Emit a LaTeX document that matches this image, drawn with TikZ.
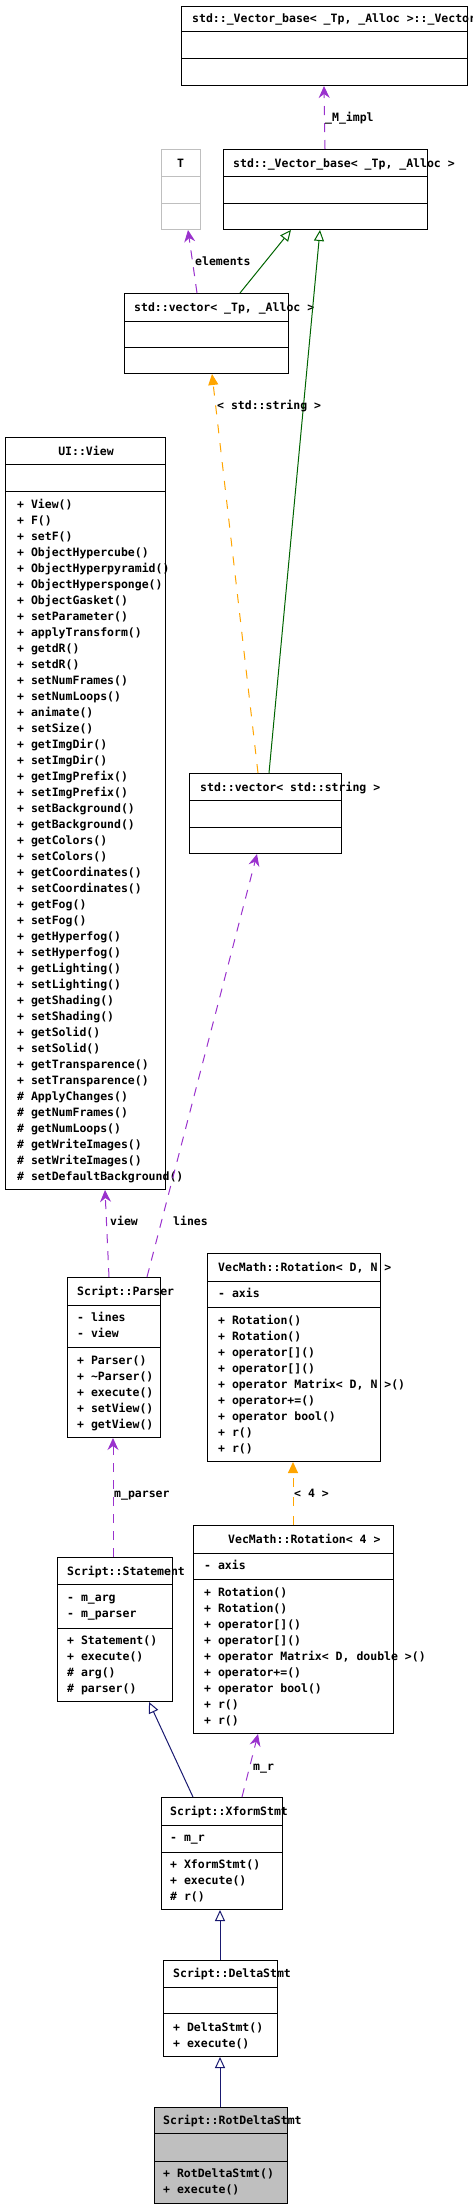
\documentclass[tikz,border=0pt]{standalone}
\usepackage{fontspec}
\setmonofont{DejaVu Sans Mono}
\usetikzlibrary{arrows.meta}
\definecolor{usecol}{HTML}{9A32CD}
\definecolor{tplcol}{HTML}{FFA500}
\definecolor{pubcol}{HTML}{006400}
\definecolor{inhcol}{HTML}{191970}
\definecolor{ghost}{HTML}{BFBFBF}
\begin{document}
\begin{tikzpicture}[x=1pt, y=-1pt,
  box/.style={draw, line width=1pt, fill=white, anchor=north west, inner sep=0},
  sep/.style={line width=1pt},
  txt/.style={font=\ttfamily\bfseries\fontsize{11.5}{14}\selectfont, inner sep=0, anchor=base west},
  useline/.style={usecol, line width=1pt, dash pattern=on 9pt off 8pt, -{Stealth[length=12pt,width=11pt,inset=4pt]}},
  tplline/.style={tplcol, line width=1pt, dash pattern=on 9pt off 10pt, -{Triangle[length=11pt,width=10pt]}},
  publine/.style={pubcol, line width=1pt, -{Triangle[open,length=11pt,width=10pt]}},
  inhline/.style={inhcol, line width=1pt, -{Triangle[open,length=11pt,width=10pt]}}]
\useasboundingbox (0,0) rectangle (472,2208);
\clip (0,0) rectangle (472,2208);
% class boxes
\node[box, minimum width=286, minimum height=79] (impl) at (181,6) {};
\node[box, draw=ghost, minimum width=39, minimum height=80] (tparam) at (161,149) {};
\node[box, minimum width=204, minimum height=80] (vbase) at (223,149) {};
\node[box, minimum width=164, minimum height=80] (vtmpl) at (124,293) {};
\node[box, minimum width=160, minimum height=752] (uiview) at (5,437) {};
\node[box, minimum width=152, minimum height=80] (vstring) at (189,773) {};
\node[box, minimum width=93, minimum height=160] (parser) at (67,1277) {};
\node[box, minimum width=173, minimum height=208] (rotdn) at (207,1253) {};
\node[box, minimum width=200, minimum height=208] (rotfour) at (193,1525) {};
\node[box, minimum width=115, minimum height=144] (stmt) at (57,1557) {};
\node[box, minimum width=121, minimum height=112] (xform) at (161,1797) {};
\node[box, minimum width=114, minimum height=96] (delta) at (163,1960) {};
\node[box, fill=ghost, minimum width=133, minimum height=96] (rotdelta) at (154,2107) {};
% compartments
\foreach \n/\s in {impl/32, impl/59, vbase/176, vbase/203, vtmpl/321, vtmpl/347,
  uiview/464, uiview/491, vstring/800, vstring/827, parser/1305, parser/1347,
  rotdn/1281, rotdn/1307, rotfour/1553, rotfour/1579, stmt/1584, stmt/1628,
  xform/1825, xform/1852, delta/1987, delta/2013, rotdelta/2133, rotdelta/2161}
  \draw[sep] (\n.west |- 0,\s) -- (\n.east |- 0,\s);
\draw[sep, ghost] (tparam.west |- 0,176) -- (tparam.east |- 0,176);
\draw[sep, ghost] (tparam.west |- 0,203) -- (tparam.east |- 0,203);
% titles
\node[txt] (impl-t) at (192,23) {std::\_Vector\_base< \_Tp, \_Alloc >::\_Vector\_impl};
\node[txt, anchor=base] (tparam-t) at (180.5,167) {T};
\node[txt] (vbase-t) at (233,167) {std::\_Vector\_base< \_Tp, \_Alloc >};
\node[txt] (vtmpl-t) at (134,311) {std::vector< \_Tp, \_Alloc >};
\node[txt, anchor=base] (uiview-t) at (86,455) {UI::View};
\node[txt] (vstring-t) at (200,791) {std::vector< std::string >};
\node[txt] (parser-t) at (77,1295) {Script::Parser};
\node[txt] (rotdn-t) at (218,1271) {VecMath::Rotation< D, N >};
\node[txt] (rotfour-t) at (228,1543) {VecMath::Rotation< 4 >};
\node[txt] (stmt-t) at (67,1575) {Script::Statement};
\node[txt] (xform-t) at (170,1815) {Script::XformStmt};
\node[txt] (delta-t) at (173,1977) {Script::DeltaStmt};
\node[txt] (rotdelta-t) at (163,2124) {Script::RotDeltaStmt};
% members
\foreach \m [count=\i from 0] in {+ View(), + F(), + setF(), + ObjectHypercube(),
  + ObjectHyperpyramid(), + ObjectHypersponge(), + ObjectGasket(), + setParameter(),
  + applyTransform(), + getdR(), + setdR(), + setNumFrames(), + setNumLoops(),
  + animate(), + setSize(), + getImgDir(), + setImgDir(), + getImgPrefix(),
  + setImgPrefix(), + setBackground(), + getBackground(), + getColors(), + setColors(),
  + getCoordinates(), + setCoordinates(), + getFog(), + setFog(), + getHyperfog(),
  + setHyperfog(), + getLighting(), + setLighting(), + getShading(), + setShading(),
  + getSolid(), + setSolid(), + getTransparence(), + setTransparence(),
  \# ApplyChanges(), \# getNumFrames(), \# getNumLoops(), \# getWriteImages(),
  \# setWriteImages(), \# setDefaultBackground()}
  \node[txt] (uiview-m\i) at (17,{508+16*\i}) {\m};
\foreach \m [count=\i from 0] in {- lines, - view}
  \node[txt] (parser-a\i) at (77,{1321+16*\i}) {\m};
\foreach \m [count=\i from 0] in {+ Parser(), + \textasciitilde Parser(), + execute(), + setView(), + getView()}
  \node[txt] (parser-m\i) at (77,{1364+16*\i}) {\m};
\node[txt] (rotdn-a0) at (218,1297) {- axis};
\foreach \m [count=\i from 0] in {+ Rotation(), + Rotation(), + operator[](), + operator[](),
  {+ operator Matrix< D, N >()}, + operator+=(), + operator bool(), + r(), + r()}
  \node[txt] (rotdn-m\i) at (218,{1324+16*\i}) {\m};
\node[txt] (rotfour-a0) at (204,1569) {- axis};
\foreach \m [count=\i from 0] in {+ Rotation(), + Rotation(), + operator[](), + operator[](),
  {+ operator Matrix< D, double >()}, + operator+=(), + operator bool(), + r(), + r()}
  \node[txt] (rotfour-m\i) at (204,{1596+16*\i}) {\m};
\foreach \m [count=\i from 0] in {- m\_arg, - m\_parser}
  \node[txt] (stmt-a\i) at (67,{1601+16*\i}) {\m};
\foreach \m [count=\i from 0] in {+ Statement(), + execute(), \# arg(), \# parser()}
  \node[txt] (stmt-m\i) at (67,{1644+16*\i}) {\m};
\node[txt] (xform-a0) at (170,1841) {- m\_r};
\foreach \m [count=\i from 0] in {+ XformStmt(), + execute(), \# r()}
  \node[txt] (xform-m\i) at (170,{1868+16*\i}) {\m};
\foreach \m [count=\i from 0] in {+ DeltaStmt(), + execute()}
  \node[txt] (delta-m\i) at (173,{2031+16*\i}) {\m};
\foreach \m [count=\i from 0] in {+ RotDeltaStmt(), + execute()}
  \node[txt] (rotdelta-m\i) at (163,{2177+16*\i}) {\m};
% relations
\draw[useline] ([xshift=102]vbase.north west) -- ([xshift=143]impl.south west);
\node[txt] (impl-l) at (325,121) {\_M\_impl};
\draw[useline] ([xshift=73]vtmpl.north west) -- ([xshift=27]tparam.south west);
\node[txt] (tparam-l) at (195,265) {elements};
\draw[publine] ([xshift=116]vtmpl.north west) -- ([xshift=68]vbase.south west);
\draw[publine] ([xshift=80]vstring.north west) -- ([xshift=97]vbase.south west);
\draw[tplline] ([xshift=69]vstring.north west) -- ([xshift=88]vtmpl.south west);
\node[txt] (vtmpl-l) at (217,409) {< std::string >};
\draw[useline] ([xshift=42]parser.north west) -- ([xshift=100]uiview.south west);
\node[txt] (uiview-l) at (110,1225) {view};
\draw[useline] ([xshift=80]parser.north west) -- ([xshift=68]vstring.south west);
\node[txt] (vstring-l) at (173,1225) {lines};
\draw[useline] ([xshift=56]stmt.north west) -- ([xshift=46]parser.south west);
\node[txt] (parser-l) at (114,1497) {m\_parser};
\draw[tplline] ([xshift=100]rotfour.north west) -- ([xshift=86]rotdn.south west);
\node[txt] (rotdn-l) at (294,1497) {< 4 >};
\draw[inhline] ([xshift=32]xform.north west) -- ([xshift=92]stmt.south west);
\draw[useline] ([xshift=81]xform.north west) -- ([xshift=65]rotfour.south west);
\node[txt] (rotfour-l) at (253,1770) {m\_r};
\draw[inhline] ([xshift=57]delta.north west) -- ([xshift=59]xform.south west);
\draw[inhline] ([xshift=66]rotdelta.north west) -- ([xshift=57]delta.south west);
\end{tikzpicture}
\end{document}
